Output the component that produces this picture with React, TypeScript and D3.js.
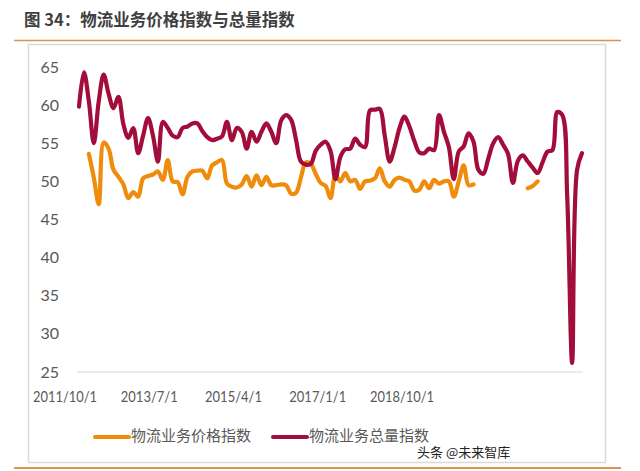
import React from "react";
import * as d3 from "d3";

const xTickLabels = ["2011/10/1", "2013/7/1", "2015/4/1", "2017/1/1", "2018/10/1"];
const yTicks = [25, 30, 35, 40, 45, 50, 55, 60, 65];

// monthly, 2011/10 .. 2020/4
const volumeIndex: (number | null)[] = [
  59.8, 64.3, 60.5, 55.0, 60.5, 64.0, 61.5, 59.6, 61.1, 57.5,
  55.7, 57.0, 53.7, 56.0, 58.3, 56.0, 52.6, 57.8, 57.0, 56.0,
  55.8, 57.0, 57.2, 57.6, 57.6, 56.6, 55.8, 55.4, 55.6, 55.9,
  57.8, 55.4, 57.0, 56.5, 54.3, 56.5, 55.2, 56.5, 57.6, 56.5,
  55.0, 58.0, 58.7, 58.1, 55.5, 52.6, 52.2, 52.3, 54.0, 54.8,
  55.2, 54.0, 50.3, 53.2, 54.2, 54.3, 55.6, 54.8, 54.5, 59.3,
  59.4, 59.5, 56.0, 52.6, 54.5, 57.0, 58.5, 57.2, 55.3, 53.8,
  53.7, 54.3, 54.1, 58.7, 56.5, 54.5, 50.3, 53.9, 54.6, 56.3,
  55.2, 51.5, 51.0, 53.0, 55.0, 55.8, 54.8, 53.6, 49.8, 52.7,
  53.4, 52.6, 51.8, 51.1, 52.5, 53.9, 54.1, 59.1, 58.7, 48.0,
  26.2, 51.5, 53.7,
];

const priceIndex: (number | null)[] = [
  null, null, 53.6, 50.5, 47.0, 55.1, 54.3, 51.5, 50.6, 49.6,
  47.8, 48.6, 48.0, 50.4, 50.7, 50.9, 51.3, 50.2, 52.8, 50.0,
  49.9, 48.3, 50.6, 51.3, 51.4, 51.4, 50.4, 52.1, 52.5, 52.8,
  49.7, 49.3, 49.2, 49.6, 50.7, 49.3, 50.8, 49.5, 50.6, 49.5,
  49.5, 49.6, 49.5, 48.4, 48.5, 50.5, 52.5, 52.3, 51.0, 49.8,
  49.4, 47.8, 50.8, 50.0, 51.1, 50.0, 50.2, 49.0, 50.0, 50.1,
  50.4, 51.7, 50.0, 49.3, 50.2, 50.5, 50.2, 50.0, 48.8, 48.9,
  50.0, 49.1, 50.2, 49.7, 50.0, 50.0, 48.0, 50.0, 52.1, 49.5,
  49.6, null, null, null, null, null, null, null, null, null,
  null, 49.1, 49.4, 50.0, null, null, null, null, null, null,
  null, null, null,
];

const seriesNames = ["物流业务价格指数", "物流业务总量指数"];
const colors = ["#F08C0C", "#A30D3B"];

export default function App() {
  const W = 640;
  const H = 471;
  const x = d3.scaleLinear().domain([0, volumeIndex.length - 1]).range([79, 582]);
  const y = d3.scaleLinear().domain([25, 65]).range([372, 67]);
  const xl = d3.scalePoint<string>().domain(xTickLabels).range([65, 402]);

  const line = d3
    .line<number | null>()
    .defined((d) => d != null)
    .x((_, i) => x(i))
    .y((d) => y(d as number))
    .curve(d3.curveCatmullRom.alpha(0.5));

  const font = "'Noto Sans CJK SC', 'Noto Sans', sans-serif";
  const numFont = "Lato, 'Noto Sans', sans-serif";
  const txt = "#595959";

  return (
    <svg width={W} height={H} style={{ position: "absolute", left: 0, top: 0 }}>
      <rect x={0} y={0} width={W} height={H} fill="#fff" />
      <text x={24} y={26} fontFamily={font} fontWeight="bold" fontSize={16.5} fill="#3f3f3f">
        图 34：物流业务价格指数与总量指数
      </text>
      <line x1={14} x2={621} y1={40.5} y2={40.5} stroke="#E0914A" strokeWidth={1.6} />
      <rect x={28.5} y={44.5} width={577} height={418} fill="none" stroke="#DADADA" strokeWidth={1.5} />
      <line x1={14} x2={621} y1={468} y2={468} stroke="#E0914A" strokeWidth={1.8} />

      {yTicks.map((t) => (
        <text key={t} x={59} y={y(t)} dy="0.35em" textAnchor="end" fontFamily={numFont} fontSize={16} fill={txt}>
          {t}
        </text>
      ))}
      <line x1={77} x2={583} y1={y(25)} y2={y(25)} stroke="#D9D9D9" strokeWidth={1.2} />
      {xTickLabels.map((l) => (
        <text
          key={l}
          x={xl(l)}
          y={402}
          textAnchor="middle"
          fontFamily={numFont}
          fontSize={15.5}
          fill={txt}
          textLength={l.length * 7.1}
          lengthAdjust="spacingAndGlyphs"
        >
          {l}
        </text>
      ))}

      <path d={line(priceIndex) || ""} fill="none" stroke={colors[0]} strokeWidth={4.2} strokeLinejoin="round" strokeLinecap="round" />
      <path d={line(volumeIndex) || ""} fill="none" stroke={colors[1]} strokeWidth={4.2} strokeLinejoin="round" strokeLinecap="round" />

      {seriesNames.map((n, i) => {
        const lx = i === 0 ? 95 : 273;
        return (
          <g key={n}>
            <line x1={lx} x2={lx + 34} y1={437} y2={437} stroke={colors[i]} strokeWidth={4} strokeLinecap="round" />
            <text x={lx + 36} y={436} dy="0.35em" fontFamily={font} fontSize={15} fill={txt}>
              {n}
            </text>
          </g>
        );
      })}
      <text x={417} y={457} fontFamily={font} fontSize={13} fill="#222">
        头条 @未来智库
      </text>
    </svg>
  );
}
